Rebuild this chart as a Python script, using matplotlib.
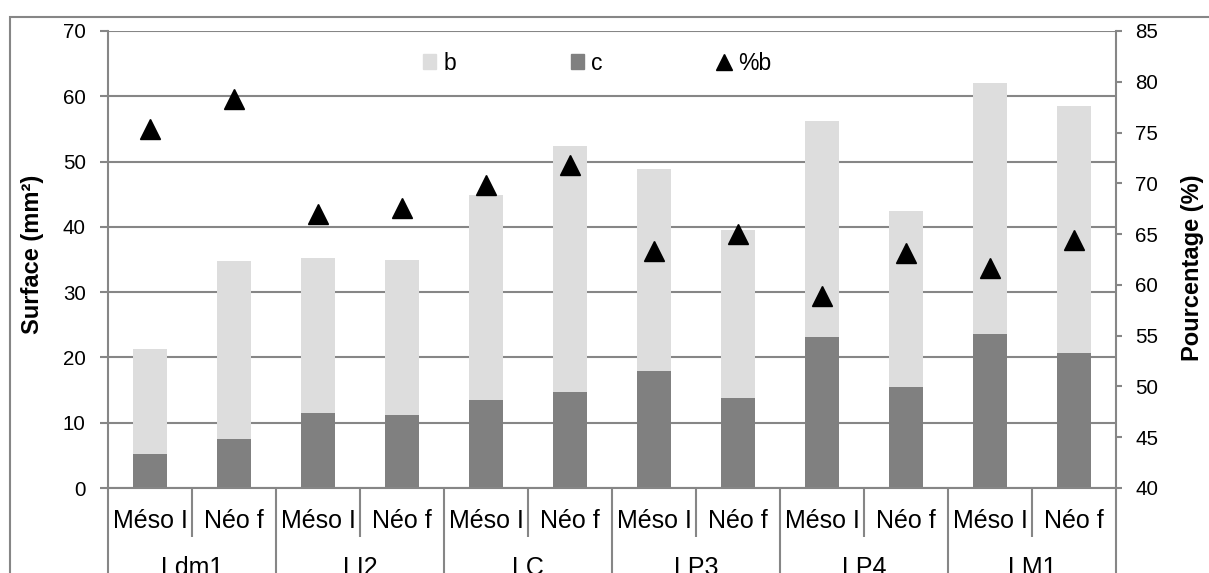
import matplotlib
matplotlib.use("Agg")
import matplotlib.pyplot as plt
from matplotlib.patches import Patch, Rectangle
from matplotlib.lines import Line2D

plt.rcParams['font.family'] = ['Liberation Sans', 'DejaVu Sans']

# données
groupes = ["Ldm1", "LI2", "LC", "LP3", "LP4", "LM1"]
periodes = ["Méso I", "Néo f"]
c = [5.2, 7.5, 11.5, 11.2, 13.5, 14.7, 17.9, 13.8, 23.1, 15.5, 23.6, 20.7]
b = [16.1, 27.3, 23.7, 23.7, 31.4, 37.7, 30.95, 25.7, 33.1, 26.9, 38.4, 37.8]
pct_b = [75.35, 78.3, 67.0, 67.6, 69.8, 71.8, 63.3, 65.0, 58.9, 63.15, 61.7, 64.4]

gris = '#868686'
W, H = 1209, 573

fig = plt.figure(figsize=(W / 100, H / 100), dpi=100)
ax = fig.add_axes([108 / W, 1 - 488 / H, (1116 - 108) / W, (488 - 31) / H])

x = list(range(len(c)))
ax.bar(x, c, width=0.4, color='#808080', zorder=2)
ax.bar(x, b, bottom=c, width=0.4, color='#DDDDDD', zorder=2)

ax.set_xlim(-0.5, len(c) - 0.5)
ax.set_ylim(0, 70)
ax.set_yticks(range(0, 71, 10))
ax.yaxis.grid(True, color=gris, lw=1.5)
ax.set_axisbelow(True)

# axe des catégories à deux niveaux
ax.set_xticks([k * 2 - 0.5 for k in range(len(groupes) + 1)])
ax.set_xticks([k * 2 + 0.5 for k in range(len(groupes))], minor=True)
ax.set_xticklabels([])
ax.tick_params(axis='x', which='major', length=70, width=1.5, color=gris, direction='out')
ax.tick_params(axis='x', which='minor', length=35, width=1.5, color=gris, direction='out')
ax.tick_params(axis='y', length=6, width=1.5, color=gris, labelsize=14.8, pad=10)

trans = ax.get_xaxis_transform()
for i in x:
    ax.text(i, -0.0875, periodes[i % 2], transform=trans, ha='center', va='baseline',
            fontsize=18, clip_on=False)
for k, g in enumerate(groupes):
    ax.text(2 * k + 0.5, -0.19, g, transform=trans, ha='center', va='baseline',
            fontsize=18, clip_on=False)

for s in ['left', 'bottom']:
    ax.spines[s].set_color(gris)
    ax.spines[s].set_linewidth(1.5)
ax.spines['top'].set_visible(False)
ax.spines['right'].set_visible(False)

ax2 = ax.twinx()
ax2.plot(x, pct_b, linestyle='none', marker='^', ms=14.5, color='black')
ax2.set_ylim(40, 85)
ax2.set_yticks(range(40, 86, 5))
ax2.tick_params(axis='y', length=4, width=1.5, color=gris, labelsize=14.8, pad=10)
for s in ['left', 'bottom', 'top']:
    ax2.spines[s].set_visible(False)
ax2.spines['right'].set_color(gris)
ax2.spines['right'].set_linewidth(1.5)

fig.text(33 / W, 1 - 254 / H, "Surface (mm²)", rotation=90, ha='center', va='center',
         fontsize=17, fontweight='bold')
fig.text(1192 / W, 1 - 268 / H, "Pourcentage (%)", rotation=90, ha='center', va='center',
         fontsize=17, fontweight='bold')

handles = [Patch(color='#DDDDDD'), Patch(color='#808080'),
           Line2D([], [], linestyle='none', marker='^', ms=12, color='black')]
fig.legend(handles, ["b", "c", "%b"], ncol=3, loc='center',
           bbox_to_anchor=(597 / W, 1 - 63 / H), frameon=False, fontsize=16.5,
           handlelength=0.6, handleheight=0.6, handletextpad=0.3, columnspacing=5.0)

# cadre de la figure (coupé en bas et à droite)
fig.patches.append(Rectangle((10 / W, -0.2), 1.5, 1.2 - 17 / H, transform=fig.transFigure,
                             fill=False, edgecolor=gris, lw=1.5))

fig.savefig("out.png", dpi=100)
